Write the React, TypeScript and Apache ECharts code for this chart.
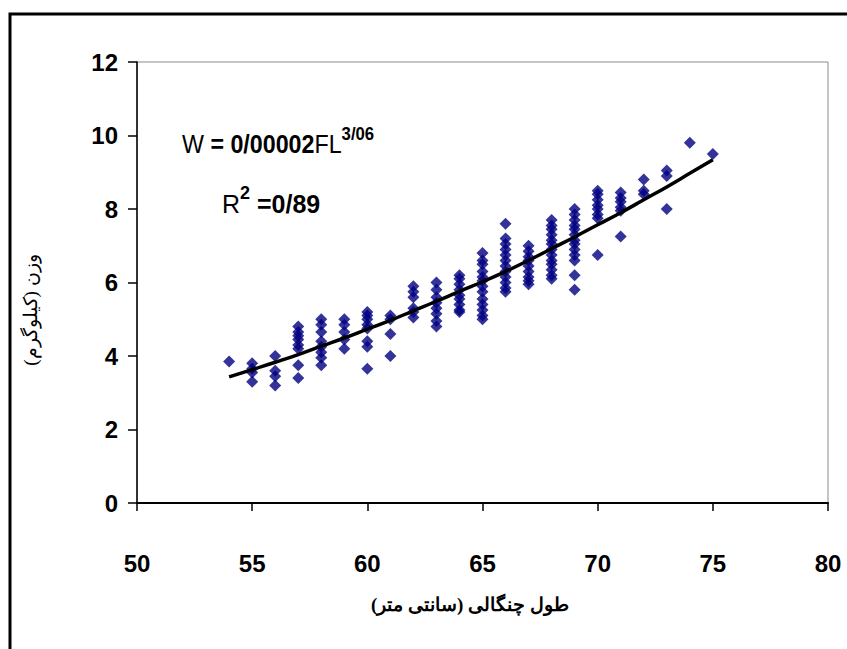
import React, { useEffect, useRef } from "react";
import * as echarts from "echarts";

// Fork length (cm) of each measured column
const lengthCm = [54, 55, 56, 57, 58, 59, 60, 61, 62, 63, 64, 65, 66, 67, 68, 69, 70, 71, 72, 73, 74, 75];

// Weights (kg) observed at each fork length
const weightKg: number[][] = [
  [3.85],
  [3.8, 3.65, 3.55, 3.3],
  [4.0, 3.6, 3.45, 3.2],
  [4.8, 4.65, 4.55, 4.45, 4.3, 4.2, 3.75, 3.4],
  [5.0, 4.85, 4.65, 4.4, 4.25, 4.1, 3.95, 3.75],
  [5.0, 4.85, 4.65, 4.45, 4.2],
  [5.2, 5.1, 5.0, 4.85, 4.75, 4.4, 4.25, 3.65],
  [5.1, 5.0, 4.6, 4.0],
  [5.9, 5.75, 5.6, 5.3, 5.2, 5.05],
  [6.0, 5.8, 5.6, 5.45, 5.3, 5.15, 4.95, 4.8],
  [6.2, 6.1, 5.95, 5.8, 5.65, 5.55, 5.4, 5.25, 5.2],
  [6.8, 6.6, 6.5, 6.3, 6.15, 6.05, 5.9, 5.75, 5.55, 5.4, 5.25, 5.1, 5.0],
  [7.6, 7.2, 7.05, 6.9, 6.75, 6.6, 6.45, 6.3, 6.15, 6.0, 5.85, 5.75],
  [7.0, 6.85, 6.7, 6.6, 6.45, 6.3, 6.15, 6.05, 5.95],
  [7.7, 7.55, 7.45, 7.3, 7.15, 7.05, 6.9, 6.75, 6.6, 6.5, 6.35, 6.2, 6.1],
  [8.0, 7.85, 7.7, 7.55, 7.45, 7.3, 7.15, 7.05, 6.9, 6.75, 6.6, 6.2, 5.8],
  [8.5, 8.4, 8.25, 8.1, 8.0, 7.85, 7.75, 6.75],
  [8.45, 8.3, 8.2, 8.05, 7.95, 7.25],
  [8.8, 8.5, 8.4],
  [9.05, 8.9, 8.0],
  [9.8],
  [9.5],
];

// Power trendline values at each fork length
const trendKg = [3.43, 3.63, 3.83, 4.04, 4.27, 4.49, 4.73, 4.97, 5.23, 5.49, 5.76, 6.02, 6.3, 6.6, 6.92, 7.24, 7.57, 7.9, 8.25, 8.6, 8.97, 9.34];

const xTitle = "طول چنگالی (سانتی متر)";
const yTitle = "وزن (کیلوگرم)";
const eqCoef = "0/00002";
const eqExp = "3/06";
const r2Value = "0/89";

const tickFont = "'Liberation Sans Narrow', 'Arial Narrow', 'Liberation Sans', Arial, sans-serif";
const eqFont = "'Liberation Sans', Arial, sans-serif";
const faFont = "'Times New Roman', 'Liberation Serif', 'DejaVu Serif', serif";

const eqRich = {
  r: { fontFamily: eqFont, fontSize: 25, color: "#000", lineHeight: 32, verticalAlign: "bottom" },
  b: { fontFamily: eqFont, fontSize: 25, fontWeight: "bold", color: "#000", lineHeight: 32, verticalAlign: "bottom" },
  s: { fontFamily: eqFont, fontSize: 18, fontWeight: "bold", color: "#000", lineHeight: 32, verticalAlign: "top" },
};

export default function App() {
  const ref = useRef<HTMLDivElement>(null);
  useEffect(() => {
    if (!ref.current) return;
    const chart = echarts.init(ref.current, null, { renderer: "svg" });
    const points: number[][] = [];
    lengthCm.forEach((len, i) => {
      weightKg[i].forEach((w) => points.push([len, w]));
    });
    const trend = lengthCm.map((len, i) => [len, trendKg[i]]);
    chart.setOption({
      animation: false,
      backgroundColor: "#ffffff",
      grid: {
        left: 137,
        top: 62,
        right: 19,
        bottom: 146,
        show: true,
        borderColor: "#8c8c8c",
        borderWidth: 1,
      },
      xAxis: {
        type: "value",
        min: 50,
        max: 80,
        interval: 5,
        splitLine: { show: false },
        axisLine: { show: true, onZero: false, lineStyle: { color: "#000", width: 2 } },
        axisTick: { show: true, inside: false, length: 8, lineStyle: { color: "#000", width: 1.5 } },
        axisLabel: {
          margin: 48,
          color: "#000",
          fontFamily: tickFont,
          fontWeight: "bold",
          fontSize: 24,
        },
      },
      yAxis: {
        type: "value",
        min: 0,
        max: 12,
        interval: 2,
        splitLine: { show: false },
        axisLine: { show: true, lineStyle: { color: "#000", width: 1.5 } },
        axisTick: { show: true, inside: false, length: 9, lineStyle: { color: "#000", width: 1.5 } },
        axisLabel: {
          margin: 19,
          color: "#000",
          fontFamily: tickFont,
          fontWeight: "bold",
          fontSize: 24,
        },
      },
      series: [
        {
          type: "scatter",
          data: points,
          symbol: "diamond",
          symbolSize: 12,
          itemStyle: { color: "#000080" },
          z: 2,
        },
        {
          type: "line",
          data: trend,
          showSymbol: false,
          smooth: true,
          lineStyle: { color: "#000", width: 3.5 },
          z: 3,
        },
      ],
      graphic: [
        {
          type: "rect",
          shape: { x: 10, y: 14, width: 900, height: 700 },
          style: { fill: "none", stroke: "#000", lineWidth: 3 },
          silent: true,
        },
        {
          type: "text",
          x: 182,
          y: 141,
          scaleX: 0.93,
          style: {
            text: `{r|W }{b|= ${eqCoef}}{r|FL}{s|${eqExp}}`,
            verticalAlign: "middle",
            rich: eqRich,
          },
        },
        {
          type: "text",
          x: 222,
          y: 200,
          style: {
            text: `{r|R}{s|2}{b| =${r2Value}}`,
            verticalAlign: "middle",
            rich: eqRich,
          },
        },
        {
          type: "text",
          x: 470,
          y: 604,
          style: {
            text: xTitle,
            fontFamily: faFont,
            fontSize: 19,
            fontWeight: "bold",
            fill: "#000",
            align: "center",
            verticalAlign: "middle",
          },
        },
        {
          type: "text",
          x: 30,
          y: 310,
          rotation: Math.PI / 2,
          style: {
            text: yTitle,
            fontFamily: faFont,
            fontSize: 19,
            fill: "#000",
            align: "center",
            verticalAlign: "middle",
          },
        },
      ],
    });
    return () => chart.dispose();
  }, []);
  return (
    <div
      ref={ref}
      style={{ position: "fixed", left: 0, top: 0, width: 847, height: 649, background: "#fff" }}
    />
  );
}
